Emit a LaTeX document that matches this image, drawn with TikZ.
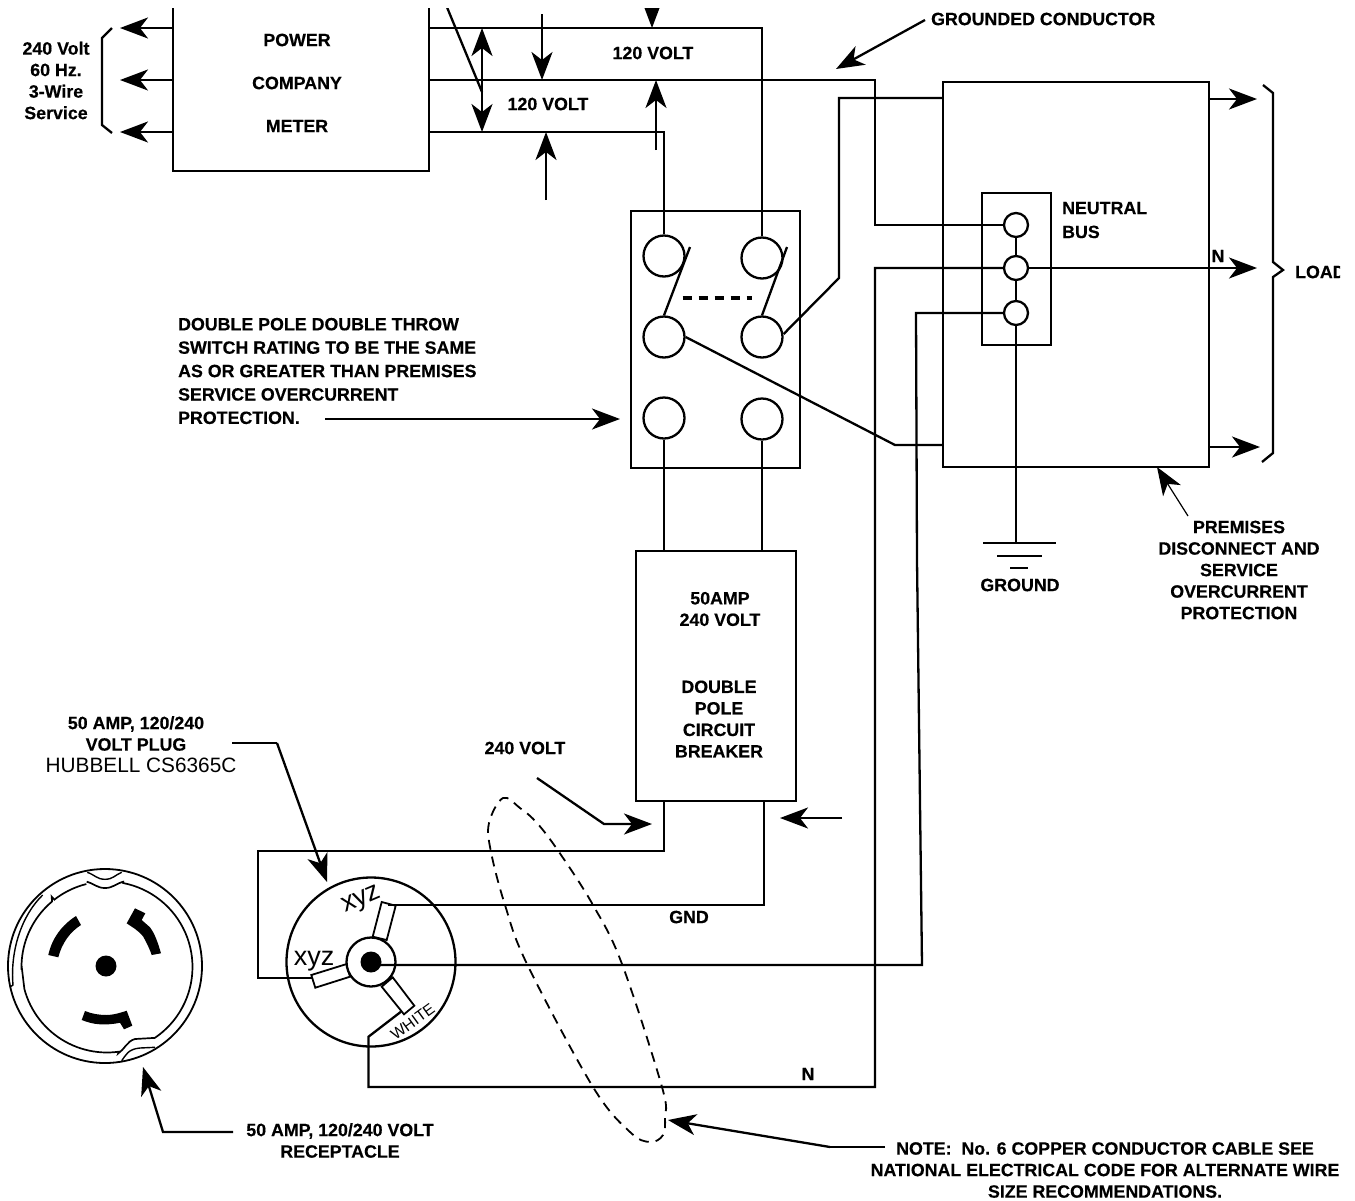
\documentclass[tikz,border=0pt]{standalone}
\usepackage{fontspec}
\setmainfont[BoldFeatures={FakeBold=0.4}]{Liberation Sans}
\usetikzlibrary{arrows.meta}

\begin{document}
\begin{tikzpicture}[x=1pt,y=-1pt,line width=2.3pt,line join=miter]
\tikzset{
  big/.style={-{Stealth[length=28pt,width=21pt,inset=8pt]}},
  lbl/.style={font=\fontsize{17.8}{21.5}\selectfont\bfseries,inner sep=0pt,align=center},
  lblleft/.style={lbl,align=left,anchor=west},
  boxed/.style={draw,inner sep=0pt},
  swterm/.style={circle,draw,inner sep=0pt,minimum size=41pt,fill=white},
  busterm/.style={circle,draw,inner sep=0pt,minimum size=24pt,fill=white},
  pinshape/.style={draw,fill=white,line width=1.8pt},
  blade/.style={fill=black,draw=none},
}
\useasboundingbox (0,0) rectangle (1355,1200);
\clip (0,8) rectangle (1340,1200);

% Boxes
\node[minimum width=254pt,minimum height=172pt,inner sep=0pt] (meter) at (301,84) {};
\draw (meter.north west) -- (meter.south west) -- (meter.south east) -- (meter.north east);
\node[boxed,minimum width=169pt,minimum height=257pt] (switch) at (715.5,339.5) {};
\node[boxed,minimum width=266pt,minimum height=385pt] (panel) at (1076,274.5) {};
\node[boxed,minimum width=69pt,minimum height=152pt] (bus) at (1016.5,269) {};
\node[boxed,minimum width=160pt,minimum height=250pt] (breaker) at (716,676) {};

% Terminals
\foreach \n/\x/\y in {swa/664/256,swb/762/258,swc/664/337,swd/762/337,swe/664/418,swf/762/419}
  \node[swterm] (\n) at (\x,\y) {};
\foreach \n/\y in {busa/225,busb/268,busc/313}
  \node[busterm] (\n) at (1016,\y) {};
\draw (busa) -- (busb);
\draw (busb) -- (busc);

% Blades of the switch
\coordinate (bladea) at (690,247);
\coordinate (bladeb) at (787,247);
\draw (swc.north) -- (bladea);
\draw (swd.north) -- (bladeb);
\draw[line width=4pt,dash pattern=on 9pt off 7pt] (682.5,297.7) -- (752,297.7);

% Service wires
\draw (meter.east |- 0,28) -| (swb.north);
\draw (meter.east |- 0,132) -| (swa.north);
\draw (meter.east |- 0,80) -- (875,80) |- (busa.west);
\draw (swe.south) -- (swe.south |- breaker.north);
\draw (swf.south) -- (swf.south |- breaker.north);
\draw (swd.east) ++(0,-3) -- (839,278) -- (839,98) -- (panel.west |- 0,98);
\draw (swc.east) -- (895,445) -- (panel.west |- 0,445);
\draw (busc.south) -- (1016,543);

% Ground
\foreach \a/\b/\y in {983/1056/543,997/1042/556,1010/1028/568}
  \draw[line width=1.8pt] (\a,\y) -- (\b,\y);

% Arrows at the meter
\foreach \y in {28,80,132}
  \draw[big] (meter.west |- 0,\y) -- (120,\y);
\draw (112,28) -- (102,38) -- (102,125) -- (112,133);
\draw[big] (482,80) -- (482,28);
\draw[big] (482,80) -- (482,132);
\draw (444,0) -- (482,92);
\draw[big] (652,-5) -- (652,28);
\draw[big] (542,14) -- (542,80);
\draw[big] (656,150) -- (656,80);
\draw[big] (546,200) -- (546,132);

% Arrows at the panel
\foreach \y/\t in {99/1257,447/1260}
  \draw[big] (panel.east |- 0,\y) -- (\t,\y);
\draw[big] (busb.east) -- (1257,268);
\draw (1263,85) -- (1273,93) -- (1273,262) -- (1283,270) -- (1273,277) -- (1273,453) -- (1262,462);
\draw[big] (925,20) -- (836,69);
\draw[big,line width=1.2pt] (1188,516) -- (1157,467);
\draw[big] (325,419) -- (620,419);

% Arrows at the breaker
\draw[big] (842,818) -- (780,818);
\draw[big] (537,778) -- (604,824) -- (652,824);

% Plug
\node[circle,draw,inner sep=0pt,minimum size=169pt] (plug) at (371,962) {};
\coordinate (pinl) at (311.5,978);
\coordinate (pint) at (388,905);
\coordinate (pinw) at (401,1011.7);
\draw[pinshape] (381.7,902) -- (395.7,905.7) -- (386.7,940) -- (372.7,936.7) -- cycle;
\draw[pinshape] (311.3,975) -- (346.7,964) -- (350,976.7) -- (315.3,987.7) -- cycle;
\draw[pinshape] (392.7,977.3) -- (414.3,1005.7) -- (404,1014.3) -- (381.7,986.7) -- cycle;
\node[circle,draw,fill=white,inner sep=0pt,minimum size=49pt] (ring) at (plug.center) {};
\node[circle,fill=black,inner sep=0pt,minimum size=21pt] (plugdot) at (plug.center) {};
\node[inner sep=0pt,font=\fontsize{27}{27}\selectfont,rotate=23] (xyza) at (362,901) {xyz};
\node[inner sep=0pt,font=\fontsize{27}{27}\selectfont] (xyzb) at (314,961) {xyz};
\node[inner sep=0pt,font=\fontsize{15.5}{16}\selectfont,rotate=36] (white) at (412.7,1021.7) {WHITE};

% Plug wires
\draw (breaker.south -| swe.south) -- (664,851) -- (258,851) -- (258,978) -- (pinl);
\draw (breaker.south -| 764,0) |- (pint);
\draw (plugdot.center |- 0,965) -- (922,965) -- (917,560) -- (916,313) -- (busc.west);
\draw (pinw) -- (368.5,1036.7) -- (368.5,1087) -- (875,1087) |- (busb.west);

% Receptacle
\node[circle,draw,inner sep=0pt,minimum size=194pt,line width=1.8pt] (recept) at (105,966) {};
\node[circle,fill=black,inner sep=0pt,minimum size=21pt] (receptdot) at (106,966) {};
\draw[line width=1.7pt]
  (86.7,881.7) .. controls (95,884) and (97,888) .. (105,888) .. controls (113,888) and (115,884) .. (123.3,881.7)
  -- plot[domain=-79:56,samples=40] ({107+85.5*cos(\x)},{967+85.5*sin(\x)})
  -- (135,1039) .. controls (127,1041) and (124,1050) .. (118.3,1053.3)
  -- plot[domain=82:165,samples=30] ({107+85.5*cos(\x)},{967+85.5*sin(\x)})
  -- (23.3,980) -- (21.7,966.7)
  -- plot[domain=180:230,samples=20] ({107+85.5*cos(\x)},{967+85.5*sin(\x)})
  -- (51.7,896.7)
  -- plot[domain=232:256,samples=10] ({107+85.5*cos(\x)},{967+85.5*sin(\x)});
\draw[line width=1.4pt] (87.3,872.3) .. controls (95,875) and (97,879.3) .. (105,879.3) .. controls (113,879.3) and (115,875) .. (121.7,872.3);
\draw[line width=1.4pt] (42.7,895) .. controls (22,915) and (10,950) .. (13,985) -- (10,987);
\draw[line width=1.4pt] (121.7,1060.7) .. controls (126,1055) and (128,1049) .. (140,1048) -- (155,1047.3);
\fill[blade] (48.3,955) .. controls (52,938) and (62,925) .. (76,916) -- (81,925) .. controls (70,932) and (62,943) .. (58.3,957.3) -- cycle;
\fill[blade] (135,908.3) -- (145.3,913.3) -- (141.7,920) -- (150,927.3) .. controls (155,934) and (158,943) .. (161,953.3) -- (151.7,955) .. controls (149,947) and (145,940) .. (143.3,936.7) .. controls (138,930) and (132,927) .. (126.7,923.3) -- cycle;
\fill[blade] (85,1011) .. controls (92,1014) and (100,1015) .. (106.7,1015) .. controls (113,1015) and (120,1013) .. (126.7,1010.7) -- (132.3,1025.7) -- (124,1029.3) -- (120,1022.7) .. controls (112,1024.5) and (105,1024.5) .. (100,1024.3) .. controls (93,1024) and (87,1022) .. (81.7,1020) -- cycle;

% Cable
\draw[line width=1.8pt,dash pattern=on 10pt off 7pt] plot[smooth cycle,tension=.6] coordinates {(503,798) (489,823) (491,852) (505,905) (527,964) (593,1087) (630,1132) (650,1142) (663,1135) (665,1117) (662,1087) (622,964) (593,905) (559,852) (537,823) (520,808)};

% Leaders
\draw (232,743) -- (277,743);
\draw[big] (277,743) -- (327,882);
\draw[big] (233,1132) -- (163,1132) -- (143,1067);
\draw (885,1147) -- (830,1147);
\draw[big] (830,1147) -- (668,1120);

% Text
\node[lbl] (service) at (56,80.5) {240 Volt\\60 Hz.\\3-Wire\\Service};
\foreach \n/\y/\t in {lpower/40/POWER,lcompany/83/COMPANY,lmeter/126/METER}
  \node[lbl] (\n) at (297,\y) {\t};
\node[lbl] (volta) at (653,53) {120 VOLT};
\node[lbl] (voltb) at (548,104) {120 VOLT};
\node[lblleft] (grounded) at (930,19) {GROUNDED CONDUCTOR};
\node[lblleft] (neutral) at (1061,220) {NEUTRAL\\[2.5pt]BUS};
\node[lbl] (nload) at (1218,256) {N};
\node[lblleft] (load) at (1294,272) {LOAD};
\node[lblleft] (dpdt) at (177,371) {DOUBLE POLE DOUBLE THROW\\[1.9pt]SWITCH RATING TO BE THE SAME\\[1.9pt]AS OR GREATER THAN PREMISES\\[1.9pt]SERVICE OVERCURRENT\\[1.9pt]PROTECTION.};
\node[lbl] (premises) at (1239,570) {PREMISES\\DISCONNECT AND\\SERVICE\\OVERCURRENT\\PROTECTION};
\node[lbl] (lground) at (1020,585) {GROUND};
\node[lbl] (amps) at (720,609) {50AMP\\240 VOLT};
\node[lbl] (dpcb) at (719,719) {DOUBLE\\POLE\\CIRCUIT\\BREAKER};
\node[lbl] (lplug) at (136,733.5) {50 AMP, 120/240\\VOLT PLUG};
\node[inner sep=0pt,font=\fontsize{20.8}{21}\selectfont] (hubbell) at (141,765) {HUBBELL CS6365C};
\node[lbl] (voltc) at (525,748) {240 VOLT};
\node[lbl] (lgnd) at (689,917) {GND};
\node[lbl] (nplug) at (808,1074) {N};
\node[lbl] (lrecept) at (340,1140.5) {50 AMP, 120/240 VOLT\\RECEPTACLE};
\node[lbl] (note) at (1105,1170) {NOTE:\ \ No. 6 COPPER CONDUCTOR CABLE SEE\\NATIONAL ELECTRICAL CODE FOR ALTERNATE WIRE\\SIZE RECOMMENDATIONS.};
\end{tikzpicture}
\end{document}
